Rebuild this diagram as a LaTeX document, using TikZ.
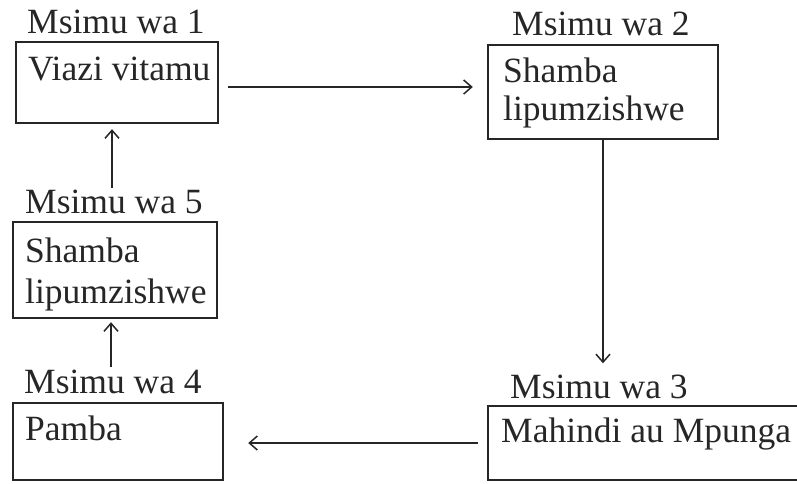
\documentclass[tikz,border=0pt]{standalone}
\usepackage{fontspec}
\setmainfont{Liberation Serif}
\usetikzlibrary{arrows.meta}
\begin{document}
\begin{tikzpicture}[x=1pt,y=-1pt,
  ink/.style={black!85},
  box/.style={ink,draw,line width=1.8pt},
  txt/.style={ink,anchor=base west,inner sep=0pt,font=\fontsize{35.5}{40}\selectfont},
  arr/.style={ink,line width=1.6pt,-{Straight Barb[length=8pt,width=14pt,line width=1.5pt]}}]
\useasboundingbox (0,0) rectangle (797,483);
% boxes
\draw[box] (16,42) rectangle (218,123);
\node[inner sep=0pt,minimum width=202pt,minimum height=81pt] (b1) at (117,82.5) {};
\draw[box] (488,45) rectangle (718,139);
\node[inner sep=0pt,minimum width=230pt,minimum height=94pt] (b2) at (603,92) {};
\draw[box] (488,406) rectangle (820,480);
\node[inner sep=0pt,minimum width=332pt,minimum height=74pt] (b3) at (654,443) {};
\draw[box] (13,403) rectangle (223,480);
\node[inner sep=0pt,minimum width=210pt,minimum height=77pt] (b4) at (118,441.5) {};
\draw[box] (13,222) rectangle (217,318);
\node[inner sep=0pt,minimum width=204pt,minimum height=96pt] (b5) at (115,270) {};
% labels
\node[txt] (m1) at (27,33) {Msimu wa 1};
\node[txt] (t1) at (28,80) {Viazi vitamu};
\node[txt] (m2) at (512,35) {Msimu wa 2};
\node[txt] (t2a) at (503,82) {Shamba};
\node[txt] (t2b) at (503,120) {lipumzishwe};
\node[txt] (m3) at (510,398) {Msimu wa 3};
\node[txt] (t3) at (501,442) {Mahindi au Mpunga};
\node[txt] (m4) at (24,393) {Msimu wa 4};
\node[txt] (t4) at (25,440) {Pamba};
\node[txt] (m5) at (25,213) {Msimu wa 5};
\node[txt] (t5a) at (25,262) {Shamba};
\node[txt] (t5b) at (25,303) {lipumzishwe};
% connectors
\draw[arr,shorten <=10pt,shorten >=15pt] (b1.east |- 0,87) -- (b2.west |- 0,87);
\draw[arr,shorten >=11pt] (b2.south) -- (b2.south |- m3.north);
\draw[arr,shorten <=10pt,shorten >=25pt] (b3.west |- 0,443) -- (b4.east |- 0,443);
\draw[arr,shorten <=2pt,shorten >=4pt] (m4.north -| 111,0) -- (b5.south -| 111,0);
\draw[arr,shorten <=1pt,shorten >=6pt] (m5.north -| 112,0) -- (b1.south -| 112,0);
\end{tikzpicture}
\end{document}
